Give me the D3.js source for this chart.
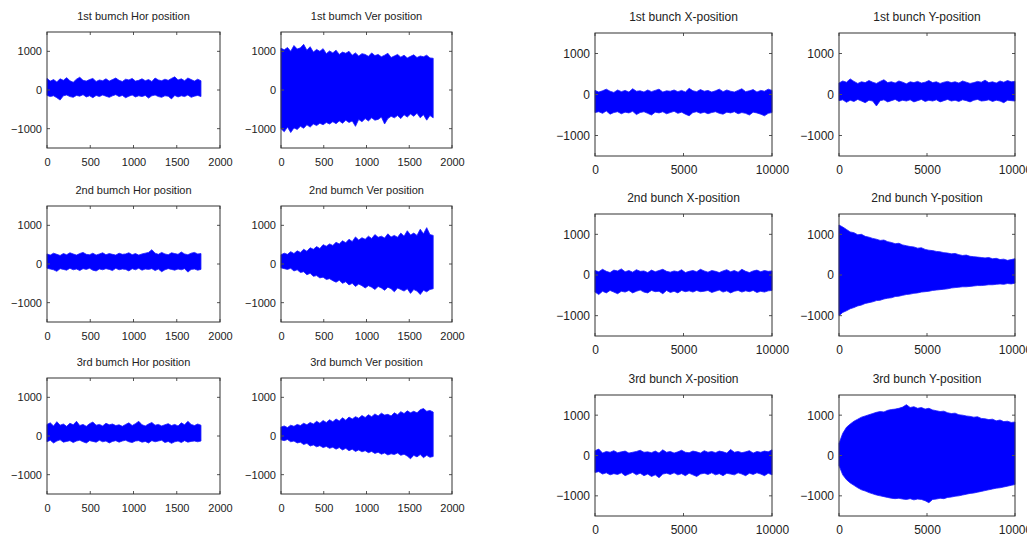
<!DOCTYPE html>
<html>
<head>
<meta charset="utf-8">
<script src="https://cdn.jsdelivr.net/npm/d3@7"></script>
<style>
  body { margin: 0; background: #fff; }
  svg { display: block; }
  .title { font-family: "Liberation Sans", Arial, sans-serif; fill: #222; }
  .tick text { font-family: "Liberation Sans", Arial, sans-serif; fill: #222; }
</style>
</head>
<body>
<div id="chart"></div>
<script>
// envelope of the turn-by-turn signal (upper / lower edge)
var turnsShort = 1780;   // left block: 1780 turns
var turnsLong = 10000;   // right block: 10000 turns

var hor1Upper = [300, 230, 270, 210, 290, 250, 320, 240, 200, 280, 330, 250, 230, 270, 300, 220, 260, 240, 290, 230, 270, 310, 250, 220, 280, 260, 300, 230, 250, 290, 240, 270, 220, 310, 260, 240, 280, 250, 300, 340, 260, 290, 240, 310, 270, 230, 280, 240];
var hor1Lower = [-140, -170, -150, -200, -260, -150, -130, -170, -190, -140, -160, -120, -180, -150, -200, -140, -170, -130, -160, -190, -150, -120, -170, -140, -200, -160, -130, -180, -150, -170, -140, -210, -150, -130, -170, -190, -150, -160, -230, -140, -180, -150, -170, -130, -190, -160, -140, -170];

var ver1Upper = [1080, 1040, 1100, 1000, 1150, 1060, 1090, 1180, 1030, 1120, 980, 1050, 1000, 1070, 940, 1010, 960, 1030, 920, 980, 950, 1000, 900, 960, 880, 940, 920, 870, 960, 890, 920, 860, 900, 950, 840, 880, 920, 850, 900, 830, 870, 910, 840, 880, 860, 900, 830, 820];
var ver1Lower = [-1000, -1080, -960, -1100, -980, -1020, -940, -990, -900, -960, -880, -920, -860, -900, -840, -880, -820, -870, -800, -860, -780, -840, -800, -940, -760, -820, -740, -800, -720, -780, -760, -700, -880, -740, -680, -720, -660, -740, -640, -700, -620, -680, -600, -720, -640, -780, -660, -720];

var hor2Upper = [260, 230, 280, 250, 220, 270, 240, 290, 260, 230, 270, 300, 250, 240, 280, 230, 260, 290, 240, 270, 250, 230, 280, 250, 260, 290, 240, 270, 230, 260, 280, 300, 370, 280, 250, 300, 260, 240, 290, 270, 250, 310, 260, 240, 280, 300, 260, 270];
var hor2Lower = [-110, -130, -150, -190, -120, -140, -160, -110, -150, -130, -170, -120, -140, -110, -160, -180, -130, -150, -120, -140, -170, -110, -150, -130, -140, -180, -120, -150, -110, -160, -130, -140, -120, -170, -130, -200, -150, -120, -140, -160, -130, -150, -120, -210, -140, -130, -160, -140];

var ver2Upper = [240, 280, 250, 320, 270, 340, 300, 380, 330, 420, 380, 450, 400, 500, 460, 520, 480, 560, 520, 600, 550, 640, 580, 700, 620, 680, 640, 720, 660, 760, 690, 720, 670, 780, 700, 740, 690, 800, 720, 860, 750, 800, 740, 900, 780, 940, 760, 740];
var ver2Lower = [-100, -120, -140, -110, -180, -150, -220, -200, -280, -240, -320, -300, -360, -340, -400, -380, -430, -470, -420, -500, -460, -540, -500, -580, -520, -560, -620, -560, -600, -660, -580, -620, -680, -600, -640, -720, -620, -660, -700, -640, -760, -660, -700, -790, -680, -720, -660, -640];

var hor3Upper = [300, 340, 260, 370, 280, 310, 250, 330, 290, 380, 270, 300, 250, 320, 360, 280, 300, 260, 330, 290, 310, 270, 290, 250, 300, 340, 270, 320, 380, 290, 260, 310, 350, 280, 300, 260, 290, 320, 270, 300, 260, 340, 290, 380, 300, 270, 310, 280];
var hor3Lower = [-150, -110, -180, -130, -100, -160, -140, -120, -170, -130, -110, -150, -180, -120, -140, -160, -110, -150, -130, -180, -140, -120, -160, -130, -110, -150, -170, -130, -120, -160, -140, -180, -120, -150, -130, -110, -170, -140, -190, -150, -130, -170, -120, -160, -140, -130, -150, -130];

var ver3Upper = [230, 260, 220, 280, 250, 300, 270, 330, 290, 350, 310, 380, 330, 400, 350, 420, 370, 440, 390, 470, 410, 490, 440, 500, 460, 530, 480, 550, 500, 570, 520, 590, 540, 560, 520, 600, 550, 630, 580, 650, 600, 640, 600, 680, 710, 640, 660, 620];
var ver3Lower = [-100, -120, -90, -150, -130, -180, -160, -220, -190, -260, -230, -280, -250, -300, -270, -320, -290, -340, -300, -360, -320, -380, -340, -400, -360, -410, -380, -430, -400, -450, -420, -470, -440, -490, -460, -480, -440, -500, -470, -520, -590, -500, -540, -480, -560, -500, -550, -530];

var x1Upper = [100, 60, 90, 130, 80, 50, 110, 70, 100, 60, 140, 80, 90, 60, 110, 70, 100, 130, 60, 90, 80, 110, 70, 100, 60, 150, 90, 70, 120, 80, 100, 60, 90, 130, 70, 110, 80, 60, 100, 140, 70, 90, 120, 60, 100, 80, 130, 100];
var x1Lower = [-440, -420, -460, -400, -480, -440, -420, -470, -430, -450, -410, -490, -440, -420, -460, -500, -430, -450, -420, -470, -440, -410, -460, -430, -480, -520, -440, -420, -460, -430, -470, -440, -420, -460, -480, -430, -450, -420, -470, -440, -460, -500, -430, -450, -480, -520, -460, -440];

var y1Upper = [280, 330, 300, 380, 320, 270, 310, 290, 340, 300, 270, 320, 360, 290, 310, 280, 330, 300, 260, 310, 290, 320, 280, 300, 340, 290, 310, 270, 300, 320, 290, 310, 280, 330, 300, 270, 290, 320, 300, 350, 290, 310, 280, 330, 300, 340, 310, 320];
var y1Lower = [-150, -130, -190, -140, -170, -120, -160, -200, -140, -160, -280, -150, -130, -180, -150, -120, -170, -140, -160, -130, -180, -150, -120, -170, -140, -160, -130, -180, -150, -120, -160, -140, -170, -130, -150, -180, -140, -120, -160, -150, -130, -170, -140, -160, -200, -140, -150, -160];

var x2Upper = [110, 80, 140, 90, 60, 120, 100, 150, 80, 110, 70, 130, 90, 100, 60, 120, 80, 110, 140, 90, 70, 100, 80, 130, 60, 90, 110, 80, 140, 100, 70, 110, 90, 60, 100, 130, 80, 110, 70, 140, 90, 60, 100, 120, 80, 110, 90, 100];
var x2Lower = [-420, -480, -400, -440, -380, -420, -460, -400, -420, -380, -440, -400, -370, -420, -440, -380, -410, -400, -460, -380, -430, -400, -440, -380, -410, -390, -420, -380, -410, -400, -380, -430, -400, -370, -420, -390, -440, -400, -380, -420, -390, -410, -380, -430, -400, -420, -390, -380];

var y2Upper = [1230, 1180, 1120, 1060, 1040, 990, 1000, 950, 930, 900, 880, 850, 860, 820, 800, 770, 780, 740, 720, 700, 690, 660, 670, 630, 610, 600, 580, 570, 550, 540, 520, 530, 500, 480, 490, 460, 450, 440, 430, 420, 430, 400, 410, 380, 390, 360, 380, 400];
var y2Lower = [-1000, -920, -880, -830, -800, -760, -740, -700, -680, -660, -630, -620, -590, -570, -560, -530, -520, -500, -480, -470, -450, -440, -420, -410, -400, -380, -370, -360, -350, -340, -320, -310, -300, -290, -290, -280, -270, -260, -260, -250, -240, -240, -230, -220, -230, -210, -220, -200];

var x3Upper = [120, 160, 60, 100, 80, 120, 70, 90, 110, 60, 80, 100, 130, 80, 90, 70, 110, 60, 140, 80, 100, 60, 90, 130, 80, 70, 110, 90, 60, 120, 80, 100, 70, 110, 90, 60, 150, 80, 100, 70, 90, 120, 60, 100, 80, 110, 90, 140];
var x3Lower = [-420, -400, -460, -430, -480, -450, -470, -430, -500, -460, -420, -480, -440, -500, -460, -520, -480, -550, -460, -440, -470, -430, -480, -450, -500, -440, -480, -520, -460, -440, -470, -430, -480, -450, -500, -440, -460, -480, -430, -460, -500, -440, -470, -430, -460, -500, -440, -480];

var y3Upper = [300, 550, 700, 780, 850, 900, 950, 980, 1010, 1040, 1070, 1090, 1080, 1120, 1140, 1150, 1170, 1200, 1260, 1190, 1210, 1170, 1190, 1150, 1170, 1130, 1110, 1090, 1100, 1060, 1040, 1050, 1010, 1000, 980, 970, 950, 960, 920, 910, 890, 900, 860, 880, 840, 850, 820, 830];
var y3Lower = [-250, -480, -600, -680, -740, -800, -850, -880, -920, -950, -980, -1000, -1020, -1040, -1060, -1070, -1060, -1080, -1090, -1070, -1100, -1080, -1090, -1120, -1170, -1090, -1080, -1060, -1070, -1040, -1030, -1010, -1000, -980, -960, -940, -930, -910, -890, -870, -850, -830, -810, -800, -780, -760, -740, -720];

var shortTicks = [0, 500, 1000, 1500, 2000];
var longTicks = [0, 5000, 10000];
var posTicks = [-1000, 0, 1000];

var svgWidth = 1027;
var svgHeight = 535;

var svg = d3.select("#chart")
  .append("svg")
  .attr("width", svgWidth)
  .attr("height", svgHeight);

// panel frames: [left, right, top, bottom] in px
var panels = [
  { title: "1st bumch Hor position", box: [47, 220, 32, 148], upper: hor1Upper, lower: hor1Lower, turns: turnsShort, xmax: 2000, xt: shortTicks, fs: 11 },
  { title: "1st bumch Ver position", box: [281, 452, 32, 148], upper: ver1Upper, lower: ver1Lower, turns: turnsShort, xmax: 2000, xt: shortTicks, fs: 11 },
  { title: "2nd bumch Hor position", box: [47, 220, 206, 322], upper: hor2Upper, lower: hor2Lower, turns: turnsShort, xmax: 2000, xt: shortTicks, fs: 11 },
  { title: "2nd bumch Ver position", box: [281, 452, 206, 322], upper: ver2Upper, lower: ver2Lower, turns: turnsShort, xmax: 2000, xt: shortTicks, fs: 11 },
  { title: "3rd bumch Hor position", box: [47, 220, 378, 494], upper: hor3Upper, lower: hor3Lower, turns: turnsShort, xmax: 2000, xt: shortTicks, fs: 11 },
  { title: "3rd bumch Ver position", box: [281, 452, 378, 494], upper: ver3Upper, lower: ver3Lower, turns: turnsShort, xmax: 2000, xt: shortTicks, fs: 11 },
  { title: "1st bunch X-position", box: [595, 772, 33, 156], upper: x1Upper, lower: x1Lower, turns: turnsLong, xmax: 10000, xt: longTicks, fs: 12 },
  { title: "1st bunch Y-position", box: [839, 1015, 33, 156], upper: y1Upper, lower: y1Lower, turns: turnsLong, xmax: 10000, xt: longTicks, fs: 12 },
  { title: "2nd bunch X-position", box: [595, 772, 214, 336], upper: x2Upper, lower: x2Lower, turns: turnsLong, xmax: 10000, xt: longTicks, fs: 12 },
  { title: "2nd bunch Y-position", box: [839, 1015, 214, 336], upper: y2Upper, lower: y2Lower, turns: turnsLong, xmax: 10000, xt: longTicks, fs: 12 },
  { title: "3rd bunch X-position", box: [595, 772, 395, 516], upper: x3Upper, lower: x3Lower, turns: turnsLong, xmax: 10000, xt: longTicks, fs: 12 },
  { title: "3rd bunch Y-position", box: [839, 1015, 395, 516], upper: y3Upper, lower: y3Lower, turns: turnsLong, xmax: 10000, xt: longTicks, fs: 12 }
];

panels.forEach(function(p) {
  var x0 = p.box[0], x1 = p.box[1], y0 = p.box[2], y1 = p.box[3];

  var xScale = d3.scaleLinear().domain([0, p.xmax]).range([x0, x1]);
  var yScale = d3.scaleLinear().domain([-1500, 1500]).range([y1, y0]);

  var n = p.upper.length;
  var pts = p.upper.map(function(u, i) {
    return { t: p.turns * i / (n - 1), hi: u, lo: p.lower[i] };
  });

  var area = d3.area()
    .x(d => xScale(d.t))
    .y0(d => yScale(d.lo))
    .y1(d => yScale(d.hi));

  svg.append("path")
    .datum(pts)
    .attr("d", area)
    .attr("fill", "#0000ff")
    .attr("stroke", "#1a1aff")
    .attr("stroke-width", 0.8);

  // MATLAB style box with inward ticks on every side
  var tickLen = 3;

  var bottomAxis = d3.axisBottom(xScale).tickValues(p.xt).tickSize(0)
    .tickPadding(p.fs === 11 ? 10 : 9)
    .tickFormat(d3.format("d"));
  svg.append("g")
    .attr("transform", `translate(0, ${y1})`)
    .call(bottomAxis)
    .call(g => g.select(".domain").remove())
    .selectAll("text").style("font-size", p.fs + "px");

  var leftAxis = d3.axisLeft(yScale).tickValues(posTicks).tickSize(0).tickPadding(5)
    .tickFormat(d3.format("d"));
  svg.append("g")
    .attr("transform", `translate(${x0}, 0)`)
    .call(leftAxis)
    .call(g => g.select(".domain").remove())
    .selectAll("text").style("font-size", p.fs + "px");

  var tickColor = "#555";
  p.xt.forEach(function(v) {
    svg.append("line")
      .attr("x1", xScale(v)).attr("x2", xScale(v))
      .attr("y1", y1).attr("y2", y1 - tickLen)
      .attr("stroke", tickColor);
    svg.append("line")
      .attr("x1", xScale(v)).attr("x2", xScale(v))
      .attr("y1", y0).attr("y2", y0 + tickLen)
      .attr("stroke", tickColor);
  });
  posTicks.forEach(function(v) {
    svg.append("line")
      .attr("x1", x0).attr("x2", x0 + tickLen)
      .attr("y1", yScale(v)).attr("y2", yScale(v))
      .attr("stroke", tickColor);
    svg.append("line")
      .attr("x1", x1).attr("x2", x1 - tickLen)
      .attr("y1", yScale(v)).attr("y2", yScale(v))
      .attr("stroke", tickColor);
  });

  svg.append("rect")
    .attr("x", x0)
    .attr("y", y0)
    .attr("width", x1 - x0)
    .attr("height", y1 - y0)
    .attr("fill", "none")
    .attr("stroke", "#333")
    .attr("stroke-width", 1);

  svg.append("text")
    .attr("class", "title")
    .attr("x", (x0 + x1) / 2)
    .attr("y", y0 - 12)
    .attr("text-anchor", "middle")
    .style("font-size", p.fs + "px")
    .text(p.title);
});
</script>
</body>
</html>
